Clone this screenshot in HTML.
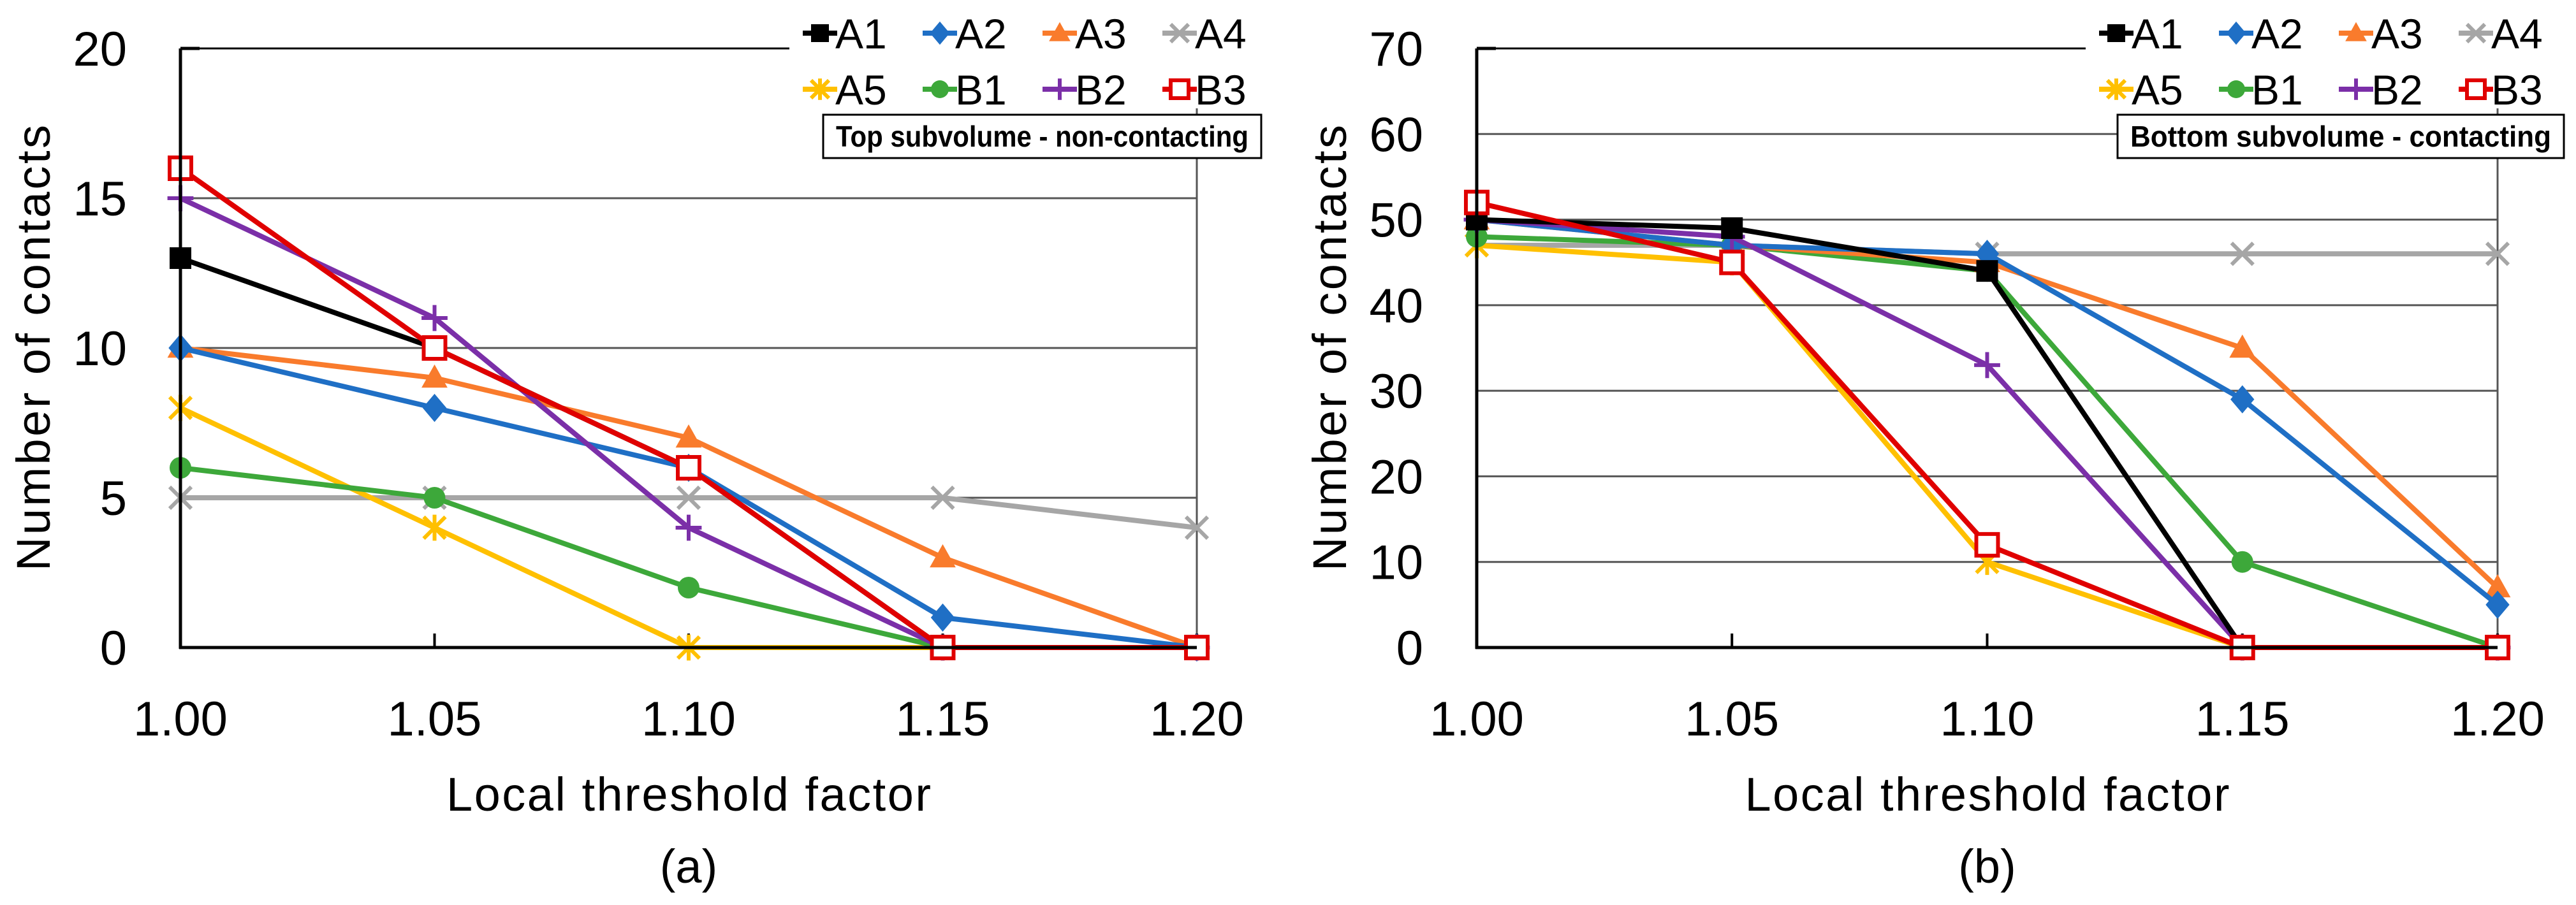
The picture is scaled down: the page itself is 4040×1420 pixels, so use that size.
<!DOCTYPE html>
<html><head><meta charset="utf-8"><style>
html,body{margin:0;padding:0;background:#fff;}
svg{display:block;font-family:"Liberation Sans",sans-serif;}
</style></head><body>
<svg id="fig" width="4040" height="1420" viewBox="0 0 4040 1420"></svg>
<script>
const categories = ["1.00","1.05","1.10","1.15","1.20"];
const seriesNames = ["A1","A2","A3","A4","A5","B1","B2","B3"];
const topA1 = [13,10,6,0,0];
const topA2 = [10,8,6,1,0];
const topA3 = [10,9,7,3,0];
const topA4 = [5,5,5,5,4];
const topA5 = [8,4,0,0,0];
const topB1 = [6,5,2,0,0];
const topB2 = [15,11,4,0,0];
const topB3 = [16,10,6,0,0];
const botA1 = [50,49,44,0,0];
const botA2 = [50,47,46,29,5];
const botA3 = [50,47,45,35,7];
const botA4 = [47,47,46,46,46];
const botA5 = [47,45,10,0,0];
const botB1 = [48,47,44,10,0];
const botB2 = [50,48,33,0,0];
const botB3 = [52,45,12,0,0];
const ticksTop = [0,5,10,15,20];
const ticksBot = [0,10,20,30,40,50,60,70];

const colors = {A1:"#000000",A2:"#1F6FC5",A3:"#F97B2C",A4:"#A6A6A6",A5:"#FFC000",B1:"#3DA83A",B2:"#7B2FA8",B3:"#E00000"};
const drawOrder = ["A4","A5","B1","A3","A2","B2","A1","B3"];
const NS = "http://www.w3.org/2000/svg";
const svg = document.getElementById("fig");
function el(tag, attrs, parent, text){
  const e = document.createElementNS(NS, tag);
  for (const k in attrs) e.setAttribute(k, attrs[k]);
  if (text !== undefined) e.textContent = text;
  (parent||svg).appendChild(e);
  return e;
}
function marker(g, name, x, y, s){
  const c = colors[name];
  let m;
  if (name==="A1") m = el("rect",{x:x-s*0.5,y:y-s*0.5,width:s,height:s,fill:c},g);
  else if (name==="A2") m = el("polygon",{points:`${x},${y-s*0.65} ${x+s*0.55},${y} ${x},${y+s*0.65} ${x-s*0.55},${y}`,fill:c},g);
  else if (name==="A3") m = el("polygon",{points:`${x},${y-s*0.62} ${x+s*0.6},${y+s*0.45} ${x-s*0.6},${y+s*0.45}`,fill:c},g);
  else if (name==="A4"||name==="A5"){
    m = el("g",{},g);
    const r = s*0.5;
    el("line",{x1:x-r,y1:y-r,x2:x+r,y2:y+r,stroke:c,"stroke-width":6},m);
    el("line",{x1:x-r,y1:y+r,x2:x+r,y2:y-r,stroke:c,"stroke-width":6},m);
    if (name==="A5") el("line",{x1:x,y1:y-r*1.2,x2:x,y2:y+r*1.2,stroke:c,"stroke-width":6},m);
  }
  else if (name==="B1") m = el("circle",{cx:x,cy:y,r:s*0.5,fill:c},g);
  else if (name==="B2"){
    m = el("g",{},g);
    el("line",{x1:x-s*0.6,y1:y,x2:x+s*0.6,y2:y,stroke:c,"stroke-width":6},m);
    el("line",{x1:x,y1:y-s*0.6,x2:x,y2:y+s*0.6,stroke:c,"stroke-width":6},m);
  }
  else m = el("rect",{x:x-s*0.5,y:y-s*0.5,width:s,height:s,fill:"#fff",stroke:c,"stroke-width":6},g);
  return m;
}
function chart(cfg){
  const g = el("g",{});
  
  
  const {x0,x1,y0,y1,ymax} = cfg;
  const xs = i => x0 + (x1-x0)*i/(categories.length-1);
  const ys = v => y0 - (y0-y1)*v/ymax;
  cfg.ticks.forEach(t=>{
    if (t===0) return;
    const gl = el("line",{x1:x0,y1:ys(t),x2:x1,y2:ys(t),stroke:"#555","stroke-width":3},g);
    
    
  });
  el("line",{x1:x1,y1:y1,x2:x1,y2:y0,stroke:"#555","stroke-width":3},g);
  cfg.ticks.forEach(t=>{
    const tl = el("text",{x:x0-84,y:ys(t)+27,"text-anchor":"end","font-size":76,fill:"#000"},g,String(t));
    
    
  });
  categories.forEach((c,i)=>{
    el("line",{x1:xs(i),y1:y0,x2:xs(i),y2:y0-22,stroke:"#000","stroke-width":4},g);
    const xl = el("text",{x:xs(i),y:y0+138,"text-anchor":"middle","font-size":76,fill:"#000"},g,c);
    
    
  });
  drawOrder.forEach(n=>{
    const vals = cfg.data[n];
    const sg = el("g",{},g);
    
    
    const pts = vals.map((v,i)=>xs(i)+","+ys(v)).join(" ");
    el("polyline",{points:pts,fill:"none",stroke:colors[n],"stroke-width":8,"stroke-linejoin":"round"},sg);
    vals.forEach((v,i)=>{
      const m = marker(sg,n,xs(i),ys(v),34);
      
      
    });
  });
  el("line",{x1:x0,y1:y1,x2:x0,y2:y0+2,stroke:"#000","stroke-width":5},g);
  el("line",{x1:x0-2,y1:y0,x2:x1,y2:y0,stroke:"#000","stroke-width":5},g);
  el("line",{x1:x0,y1:y1,x2:x0+30,y2:y1,stroke:"#000","stroke-width":5},g);
  el("line",{x1:x0,y1:y1,x2:x1,y2:y1,stroke:"#000","stroke-width":3},g);
  const lg = el("g",{},g);
  
  
  el("rect",{x:x0+955,y:0,width:800,height:170,fill:"#fff"},lg);
  seriesNames.forEach((n,k)=>{
    const col = k%4, row = Math.floor(k/4);
    const lx = x0+1003+col*188, ly = 52+row*88;
    const eg = el("g",{},lg);
    
    
    el("line",{x1:lx-27,y1:ly,x2:lx+27,y2:ly,stroke:colors[n],"stroke-width":8},eg);
    marker(eg,n,lx,ly,28);
    el("text",{x:lx+24,y:ly+24,"font-size":66,fill:"#000"},eg,n);
  });
  const tb = el("g",{},g);
  
  
  el("rect",{x:cfg.bx,y:180,width:cfg.bw,height:68,fill:"#fff",stroke:"#000","stroke-width":3},tb);
  el("text",{x:cfg.bx+cfg.bw/2,y:230,"text-anchor":"middle","font-size":46,"font-weight":"bold",fill:"#000",textLength:cfg.bw-40,lengthAdjust:"spacingAndGlyphs"},tb,cfg.title);
  const yt = el("text",{x:0,y:0,"text-anchor":"middle","font-size":74,fill:"#000",transform:`translate(${x0-205},${(y0+y1)/2}) rotate(-90)`,textLength:700},g,"Number of contacts");
  
  
  const xt = el("text",{x:(x0+x1)/2,y:1272,"text-anchor":"middle","font-size":74,fill:"#000",textLength:760},g,"Local threshold factor");
  
  
  const pl = el("text",{x:(x0+x1)/2,y:1385,"text-anchor":"middle","font-size":74,fill:"#000"},g,cfg.label);
  
  
}
chart({name:"chart-top-subvolume",x0:283,x1:1877,y0:1016,y1:76,ymax:20,ticks:ticksTop,bx:1291,bw:687,
  title:"Top subvolume - non-contacting",label:"(a)",
  data:{A1:topA1,A2:topA2,A3:topA3,A4:topA4,A5:topA5,B1:topB1,B2:topB2,B3:topB3}});
chart({name:"chart-bottom-subvolume",x0:2316,x1:3917,y0:1016,y1:76,ymax:70,ticks:ticksBot,bx:3321,bw:700,
  title:"Bottom subvolume - contacting",label:"(b)",
  data:{A1:botA1,A2:botA2,A3:botA3,A4:botA4,A5:botA5,B1:botB1,B2:botB2,B3:botB3}});
</script>
</body></html>
